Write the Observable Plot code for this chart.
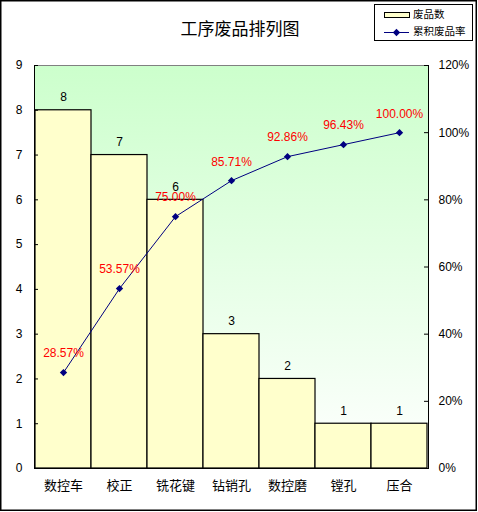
<!DOCTYPE html>
<html>
<head>
<meta charset="utf-8">
<script src="https://cdn.jsdelivr.net/npm/d3@7"></script>
<script src="https://cdn.jsdelivr.net/npm/@observablehq/plot@0.6"></script>
<style>
  html, body { margin: 0; padding: 0; background: white; }
</style>
</head>
<body>
<div id="chart"></div>
<script>
const title = "工序废品排列图";
const categories = ["数控车", "校正", "铣花键", "钻销孔", "数控磨", "镗孔", "压合"];
const counts = [8, 7, 6, 3, 2, 1, 1];
const cumPct = [28.57, 53.57, 75.00, 85.71, 92.86, 96.43, 100.00];
const leftTicks = [0, 1, 2, 3, 4, 5, 6, 7, 8, 9];
const pctTicks = [0, 20, 40, 60, 80, 100, 120];
const seriesNames = ["废品数", "累积废品率"];

const yMax = 9, pctMax = 120;
const pctToY = p => p / pctMax * yMax;
const data = categories.map((c, i) => ({cat: c, count: counts[i], pct: cumPct[i], pctY: pctToY(cumPct[i])}));

const W = 478, H = 512, mL = 34, mR = 50, mT = 65, mB = 44;
const innerW = W - mL - mR;
const font = "'Liberation Sans', Arial, 'Noto Sans CJK SC', sans-serif";

const svg = Plot.plot({
  width: W, height: H,
  marginLeft: mL, marginRight: mR, marginTop: mT, marginBottom: mB,
  style: {fontFamily: font, fontSize: "12px", background: "white", color: "black"},
  x: {domain: categories, padding: 0},
  y: {domain: [0, yMax]},
  marks: [
    Plot.frame({fill: "url(#plotBg)", stroke: "black"}),
    Plot.barY(data, {x: "cat", y: "count", fill: "#ffffcc", stroke: "black", strokeWidth: 1.2, inset: 0}),
    Plot.ruleY([yMax], {stroke: "#808080"}),
    Plot.ruleY([0], {stroke: "black"}),
    Plot.line(data, {x: "cat", y: "pctY", stroke: "#000080", strokeWidth: 1}),
    Plot.dot(data, {x: "cat", y: "pctY", symbol: "diamond2", r: 3.3, fill: "#000080", stroke: "none"}),
    Plot.text(data, {x: "cat", y: "count", text: d => String(d.count), dy: -13, fontSize: 12, fill: "black"}),
    Plot.text(data, {x: "cat", y: "pctY", text: d => d.pct.toFixed(2) + "%", dy: -19, fontSize: 12, fill: "#ff0000"}),
    Plot.axisY({anchor: "left", ticks: leftTicks, tickSize: 0, tickPadding: 12, label: null, fontSize: 12}),
    Plot.ruleY(leftTicks, {insetRight: innerW - 4, stroke: "black"}),
    Plot.axisY({anchor: "right", ticks: pctTicks.map(pctToY), tickFormat: d => Math.round(d / yMax * pctMax) + "%", tickSize: 0, tickPadding: 10, label: null, fontSize: 12}),
    Plot.ruleY(pctTicks.map(pctToY), {insetLeft: innerW - 4, stroke: "black"}),
    Plot.axisX({tickSize: 0, tickPadding: 12, label: null, fontSize: 13})
  ]
});

const s = d3.select(svg);
const defs = s.insert("defs", ":first-child");
const grad = defs.append("linearGradient").attr("id", "plotBg")
  .attr("x1", 0).attr("y1", 0).attr("x2", 0).attr("y2", 1);
grad.append("stop").attr("offset", "0%").attr("stop-color", "#ccffcc");
grad.append("stop").attr("offset", "100%").attr("stop-color", "#ffffff");

// outer chart border
s.append("rect").attr("x", 0.75).attr("y", 0.75).attr("width", 475.5).attr("height", 509.5)
  .attr("fill", "none").attr("stroke", "black").attr("stroke-width", 1.5);

// title
s.append("text").attr("x", 240).attr("y", 31)
  .attr("text-anchor", "middle").attr("dominant-baseline", "middle")
  .style("font-family", font).style("font-size", "17px").attr("fill", "black")
  .text(title);

// legend
const lg = s.append("g").style("font-family", font).style("font-size", "10.5px").attr("text-anchor", "start");
lg.append("rect").attr("x", 374.5).attr("y", 4.5).attr("width", 98).attr("height", 36)
  .attr("fill", "white").attr("stroke", "black");
lg.append("rect").attr("x", 384.5).attr("y", 12.5).attr("width", 25).attr("height", 5)
  .attr("fill", "#ffffcc").attr("stroke", "black");
lg.append("text").attr("x", 413).attr("y", 15).attr("text-anchor", "start").attr("dominant-baseline", "middle").attr("fill", "black").text(seriesNames[0]);
lg.append("line").attr("x1", 384).attr("x2", 409).attr("y1", 32.5).attr("y2", 32.5).attr("stroke", "#000080");
lg.append("path").attr("d", d3.symbol(d3.symbolDiamond2, Math.PI * 3.3 * 3.3)()).attr("transform", "translate(396.5,32.5)").attr("fill", "#000080");
lg.append("text").attr("x", 413).attr("y", 32.5).attr("text-anchor", "start").attr("dominant-baseline", "middle").attr("fill", "black").text(seriesNames[1]);

document.getElementById("chart").appendChild(svg);
</script>
</body>
</html>
